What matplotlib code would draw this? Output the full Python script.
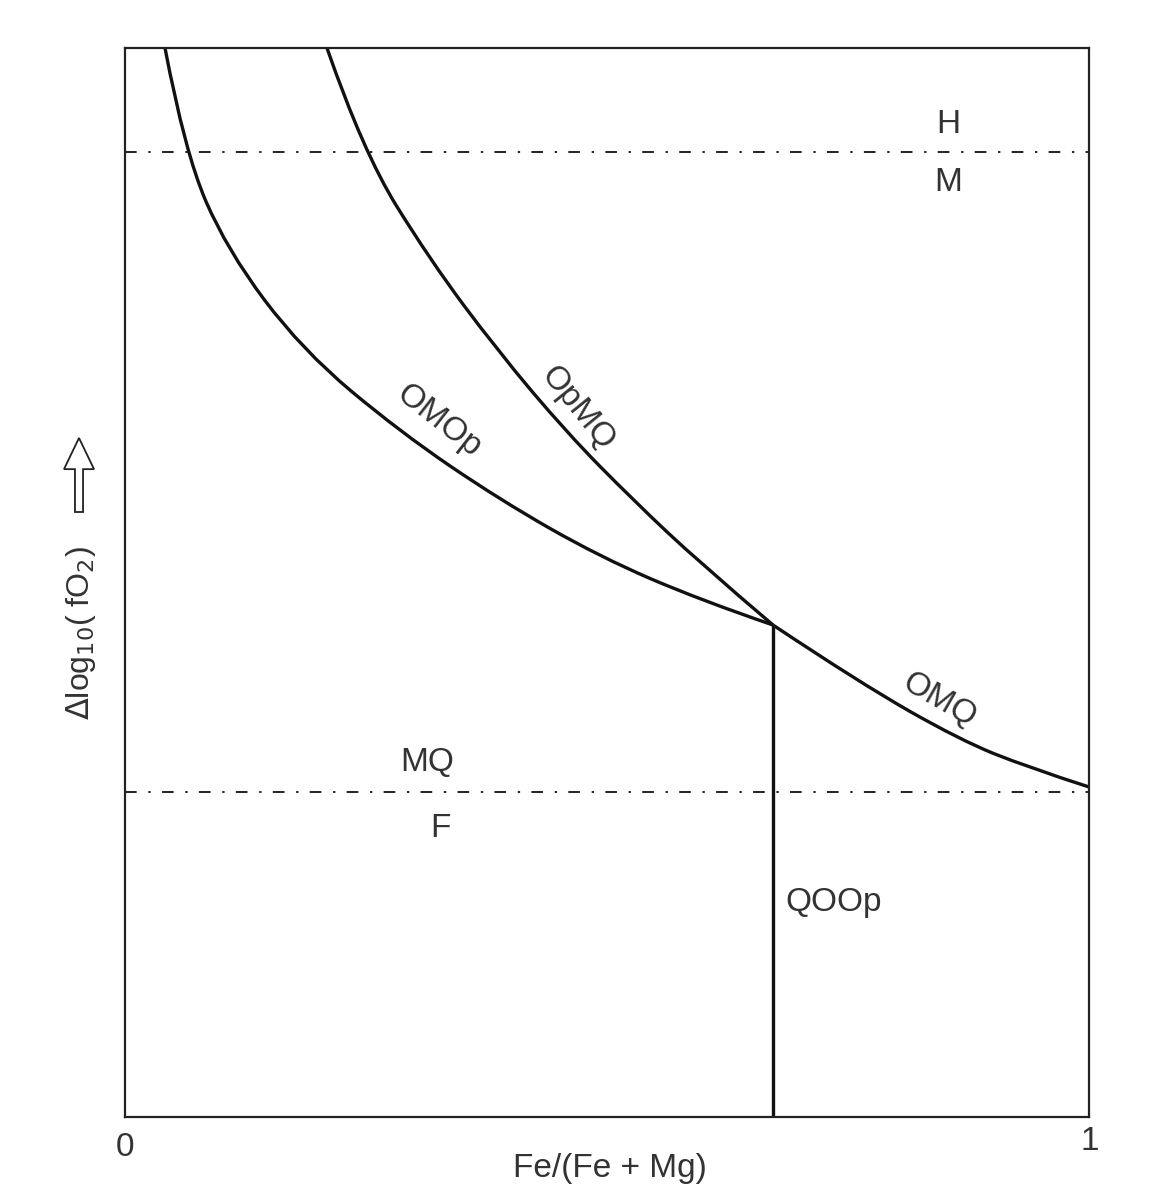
import numpy as np
import matplotlib
matplotlib.use("Agg")
import matplotlib.pyplot as plt
from matplotlib.path import Path
from matplotlib.patches import PathPatch, FancyArrow

plt.rcParams['font.family'] = ['Liberation Sans', 'DejaVu Sans']

# boundary curves, x = Fe/(Fe+Mg), y = relative log fO2 (0..10)
omop_x = [0.0415, 0.0622, 0.1058, 0.1836, 0.2853, 0.3890, 0.4927, 0.5965, 0.6722]
omop_y = [10.00, 9.018, 8.110, 7.175, 6.408, 5.772, 5.239, 4.836, 4.602]

opmq_x = [0.2095, 0.2469, 0.3164, 0.3859, 0.4585, 0.5270, 0.5965, 0.6722]
opmq_y = [10.00, 9.027, 8.017, 7.175, 6.399, 5.772, 5.182, 4.602]

omq_x = [0.6722, 0.7624, 0.8662, 0.9357, 1.0]
omq_y = [4.602, 4.060, 3.527, 3.274, 3.087]

qoop_x = 0.6722
qoop_y = [0.0, 4.602]

hm_y = 9.03   # H/M buffer
mqf_y = 3.04  # MQ/F buffer


def smooth_path(xs, ys):
    # quadratic segments through the midpoints, anchored at both ends
    pts = list(zip(xs, ys))
    verts = [pts[0]]
    codes = [Path.MOVETO]
    for i in range(1, len(pts) - 1):
        mid = ((pts[i][0] + pts[i + 1][0]) / 2, (pts[i][1] + pts[i + 1][1]) / 2)
        if i == len(pts) - 2:
            mid = pts[-1]
        verts += [pts[i], mid]
        codes += [Path.CURVE3, Path.CURVE3]
    return Path(verts, codes)


fig = plt.figure(figsize=(11.54, 11.98), dpi=100)
ax = fig.add_axes([0.1083, 0.0676, 0.8354, 0.8924])

lw = 2.4
ink = '#111111'
for xs, ys in ((omop_x, omop_y), (opmq_x, opmq_y), (omq_x, omq_y)):
    ax.add_patch(PathPatch(smooth_path(xs, ys), fc='none', ec=ink, lw=lw, capstyle='butt'))
ax.plot([qoop_x, qoop_x], qoop_y, color=ink, lw=lw, solid_capstyle='butt')

for yy in (hm_y, mqf_y):
    ax.axhline(yy, color='#222222', lw=1.4, linestyle=(0, (6, 6, 1.2, 5.8)))

ax.set_xlim(0, 1)
ax.set_ylim(0, 10)
for sp in ax.spines.values():
    sp.set_linewidth(1.6)
    sp.set_color('#222222')
ax.set_xticks([])
ax.set_yticks([])

tc = '#333333'
fs = 24
ax.text(0.854, 9.28, 'H', fontsize=fs, color=tc, ha='center', va='center')
ax.text(0.854, 8.74, 'M', fontsize=fs, color=tc, ha='center', va='center')
ax.text(0.313, 3.32, 'MQ', fontsize=fs, color=tc, ha='center', va='center')
ax.text(0.327, 2.70, 'F', fontsize=fs, color=tc, ha='center', va='center')
ax.text(0.685, 2.01, 'QOOp', fontsize=fs, color=tc, ha='left', va='center')
ax.text(0.325, 6.51, 'OMOp', fontsize=fs, color=tc, ha='center', va='center', rotation=-38)
ax.text(0.469, 6.63, 'OpMQ', fontsize=fs, color=tc, ha='center', va='center', rotation=-51)
ax.text(0.845, 3.90, 'OMQ', fontsize=fs, color=tc, ha='center', va='center', rotation=-30)

# axis end labels and titles
W, H = 1154, 1198
fig.text(125 / W, 1 - 1147 / H, '0', fontsize=24, color=tc, ha='center', va='center')
fig.text(1090 / W, 1 - 1141 / H, '1', fontsize=24, color=tc, ha='center', va='center')
fig.text(610 / W, 1 - 1168 / H, 'Fe/(Fe + Mg)', fontsize=24, color=tc, ha='center', va='center')

fig.text(81 / W, 1 - 633 / H, r'$\Delta$log$_{10}$( fO$_2$)', fontsize=23, color=tc,
         rotation=90, ha='center', va='center')
fig.patches.append(FancyArrow(
    79 / W, 1 - 512 / H, 0, 74 / H, width=0.007, head_width=0.026,
    head_length=0.026, length_includes_head=True, fc='white', ec='#222222', lw=1.3,
    transform=fig.transFigure, figure=fig))

fig.savefig('out.png', dpi=100, facecolor='white')
